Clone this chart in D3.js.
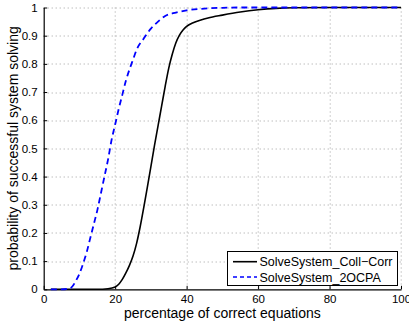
<!DOCTYPE html>
<html>
<head>
<meta charset="utf-8">
<script src="https://cdn.jsdelivr.net/npm/d3@7"></script>
<style>
  body { margin: 0; background: #fff; }
  text { font-family: "Liberation Sans", Arial, sans-serif; fill: #000; }
</style>
</head>
<body>
<div id="chart"></div>
<script>
// Data: percentage of correct equations vs probability
var collCorrX = [2, 15, 18, 20, 21, 22, 23, 24, 25, 26, 27, 28, 29, 30, 31, 32, 33, 34, 35, 36, 37, 38, 39, 40, 42, 44, 46, 50, 55, 60, 65, 70, 80, 100];
var collCorrY = [0, 0, 0.002, 0.008, 0.018, 0.035, 0.058, 0.085, 0.118, 0.163, 0.222, 0.29, 0.362, 0.435, 0.51, 0.58, 0.65, 0.72, 0.785, 0.835, 0.875, 0.902, 0.92, 0.933, 0.947, 0.956, 0.963, 0.973, 0.984, 0.992, 0.997, 0.999, 1, 1];

var ocpaX = [2, 5, 7, 8, 9, 10, 11, 12, 13, 14, 15, 16, 17, 18, 19, 20, 21, 22, 23, 24, 25, 26, 28, 30, 32, 34, 37, 40, 45, 50, 55, 100];
var ocpaY = [0, 0, 0.002, 0.01, 0.03, 0.055, 0.09, 0.13, 0.18, 0.23, 0.28, 0.34, 0.40, 0.46, 0.53, 0.585, 0.64, 0.69, 0.74, 0.78, 0.815, 0.85, 0.89, 0.925, 0.95, 0.97, 0.982, 0.99, 0.996, 0.999, 1, 1];

var xTicks = [0, 20, 40, 60, 80, 100];
var yTicks = [0, 0.1, 0.2, 0.3, 0.4, 0.5, 0.6, 0.7, 0.8, 0.9, 1];

var seriesNames = ["SolveSystem_Coll\u2212Corr", "SolveSystem_2OCPA"];

var width = 409, height = 325;
var margin = {top: 7.5, right: 8, bottom: 35.7, left: 43.7};
var w = width - margin.left - margin.right,
    h = height - margin.top - margin.bottom;

var svg = d3.select("#chart").append("svg")
    .attr("width", width)
    .attr("height", height);

var g = svg.append("g")
    .attr("transform", "translate(" + margin.left + "," + margin.top + ")");

var x = d3.scaleLinear().domain([0, 100]).range([0, w]);
var y = d3.scaleLinear().domain([0, 1]).range([h, 0]);

// dotted grid
g.append("g").selectAll("line")
  .data(xTicks.slice(1))
  .enter().append("line")
    .attr("x1", function(d) { return Math.round(x(d)) + 0.5; })
    .attr("x2", function(d) { return Math.round(x(d)) + 0.5; })
    .attr("y1", 0).attr("y2", h)
    .style("stroke", "#a0a0a0")
    .style("stroke-dasharray", "1,3");

g.append("g").selectAll("line")
  .data(yTicks.slice(1))
  .enter().append("line")
    .attr("y1", function(d) { return Math.round(y(d)) + 0.5; })
    .attr("y2", function(d) { return Math.round(y(d)) + 0.5; })
    .attr("x1", 0).attr("x2", w)
    .style("stroke", "#a0a0a0")
    .style("stroke-dasharray", "1,3");

// axes, ticks pointing inward
var xAxis = g.append("g")
    .attr("transform", "translate(0," + h + ")")
    .call(d3.axisBottom(x).tickValues(xTicks).tickSizeInner(-3.5).tickSizeOuter(0).tickPadding(6));

var yAxis = g.append("g")
    .call(d3.axisLeft(y).tickValues(yTicks).tickFormat(d3.format("~g")).tickSizeInner(-3.5).tickSizeOuter(0).tickPadding(6));

[xAxis, yAxis].forEach(function(a) {
  a.select(".domain").style("stroke", "#000").style("stroke-width", 1.2);
  a.selectAll(".tick line").style("stroke", "#000");
  a.selectAll("text")
    .style("font-family", "Liberation Sans, Arial, sans-serif")
    .style("font-size", "11.5px")
    .style("fill", "#000");
});

// curves
var line = d3.line()
    .x(function(d) { return x(d[0]); })
    .y(function(d) { return y(d[1]); })
    .curve(d3.curveMonotoneX);

g.append("path")
  .datum(collCorrX.map(function(v, i) { return [v, collCorrY[i]]; }))
  .attr("d", line)
  .style("fill", "none")
  .style("stroke", "#000")
  .style("stroke-width", 1.6);

g.append("path")
  .datum(ocpaX.map(function(v, i) { return [v, ocpaY[i]]; }))
  .attr("d", line)
  .style("fill", "none")
  .style("stroke", "#0000ff")
  .style("stroke-width", 1.8)
  .style("stroke-dasharray", "6,4");

// axis labels
svg.append("text")
  .attr("x", margin.left + w / 2)
  .attr("y", 317.5)
  .attr("text-anchor", "middle")
  .style("font-size", "14px")
  .text("percentage of correct equations");

svg.append("text")
  .attr("transform", "translate(17.5," + (margin.top + h / 2) + ") rotate(-90)")
  .attr("text-anchor", "middle")
  .style("font-size", "14px")
  .text("probability of successful system solving");

// legend
var legend = svg.append("g");
legend.append("rect")
  .attr("x", 227.5).attr("y", 251.5)
  .attr("width", 170).attr("height", 34)
  .style("fill", "#fff")
  .style("stroke", "#000")
  .style("stroke-width", 1);

var legendStyles = [
  {stroke: "#000", dash: null, width: 1.6},
  {stroke: "#0000ff", dash: "4,3", width: 1.6}
];

seriesNames.forEach(function(name, i) {
  var ly = 261.7 + i * 15.3;
  legend.append("line")
    .attr("x1", 233).attr("x2", 257)
    .attr("y1", ly).attr("y2", ly)
    .style("stroke", legendStyles[i].stroke)
    .style("stroke-width", legendStyles[i].width)
    .style("stroke-dasharray", legendStyles[i].dash);
  legend.append("text")
    .attr("x", 259.5)
    .attr("y", ly)
    .attr("dy", "0.36em")
    .style("font-size", "12.5px")
    .text(name);
});
</script>
</body>
</html>
